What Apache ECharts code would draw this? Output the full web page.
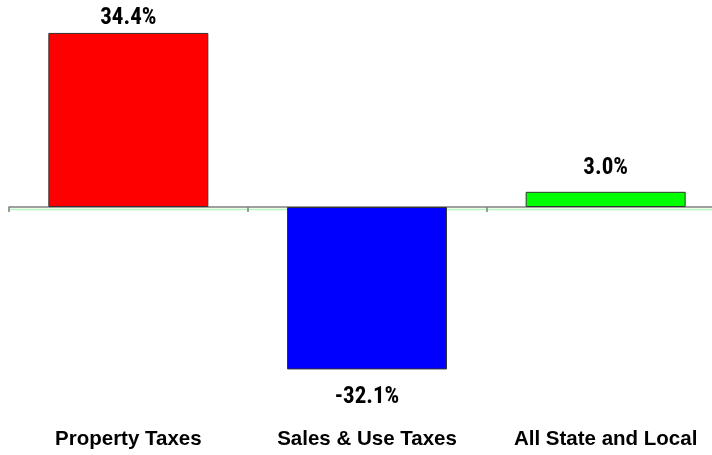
<!DOCTYPE html>
<html>
<head>
<meta charset="utf-8">
<script src="https://cdn.jsdelivr.net/npm/echarts@6/dist/echarts.min.js"></script>
<style>
  html, body { margin: 0; padding: 0; background: #ffffff; }
  #chart { width: 712px; height: 455px; }
</style>
</head>
<body>
<div id="chart"></div>
<script>
// Percent change by tax category
const categories = ['Property Taxes', 'Sales & Use Taxes', 'All State and Local'];
const changePct = [34.4, -32.1, 3.0];
const barColors = ['#ff0000', '#0000ff', '#00ff00'];
// space between each value label and its bar end
const labelGap = [3, 16, 12];

const chart = echarts.init(document.getElementById('chart'), null, { renderer: 'canvas' });

const seriesData = changePct.map((v, i) => ({
  value: v,
  itemStyle: { color: barColors[i] },
  label: {
    position: v >= 0 ? 'top' : 'bottom',
    distance: labelGap[i]
  }
}));

chart.setOption({
  animation: false,
  backgroundColor: '#ffffff',
  grid: { left: 9, top: 4.6, width: 716, height: 404.8, containLabel: false, outerBoundsMode: 'none' },
  xAxis: {
    type: 'category',
    data: categories,
    axisLine: {
      onZero: true,
      lineStyle: {
        color: '#808080', width: 1.5,
        shadowColor: '#b8f5b8', shadowOffsetY: 2.5, shadowBlur: 0
      }
    },
    axisTick: { show: true, length: 5, alignWithLabel: false, lineStyle: { color: '#808080', width: 1.5 } },
    axisLabel: {
      margin: 19,
      color: '#000000',
      fontFamily: 'Liberation Sans, Arial, sans-serif',
      fontWeight: 'bold',
      fontSize: 20.5
    },
    splitLine: { show: false }
  },
  yAxis: {
    type: 'value',
    min: -40,
    max: 40,
    show: false,
    splitLine: { show: false }
  },
  series: [{
    type: 'bar',
    data: seriesData,
    barWidth: 160,
    itemStyle: { borderColor: '#333333', borderWidth: 1 },
    label: {
      show: true,
      color: '#000000',
      fontFamily: 'Roboto Condensed, DejaVu Sans Condensed, sans-serif',
      fontWeight: 'bold',
      fontSize: 23,
      formatter: p => p.value.toFixed(1) + '%'
    }
  }]
});
</script>
</body>
</html>
